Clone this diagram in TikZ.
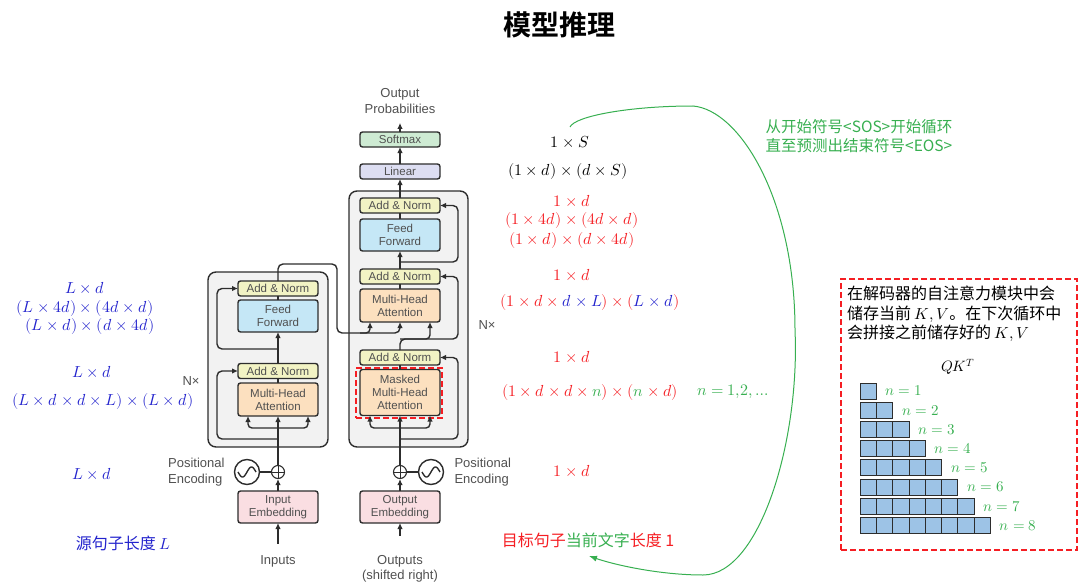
\documentclass[tikz,border=0pt]{standalone}
\usepackage{fontspec}
\usepackage{unicode-math}
\usepackage{xcolor}
\newfontfamily\hv{Liberation Sans}
\newfontfamily\cjk{Noto Sans CJK SC}[BoldFont={Noto Sans CJK SC Bold}]
\usetikzlibrary{arrows.meta,positioning}

\definecolor{linec}{RGB}{45,45,45}
\definecolor{txtc}{RGB}{80,80,80}
\definecolor{addc}{RGB}{242,243,196}
\definecolor{ffc}{RGB}{197,231,246}
\definecolor{mhac}{RGB}{252,224,191}
\definecolor{embc}{RGB}{250,222,226}
\definecolor{linc}{RGB}{221,222,242}
\definecolor{smc}{RGB}{206,235,211}
\definecolor{blockc}{RGB}{242,242,242}
\definecolor{qkc}{RGB}{157,195,230}
\definecolor{mred}{RGB}{245,30,35}
\definecolor{mblue}{RGB}{35,35,205}
\definecolor{mgreen}{RGB}{55,175,80}

\begin{document}
\begin{tikzpicture}[x=1pt, y=-1pt,
    box/.style={draw=linec, line width=1.4pt, rounded corners=2.5pt, align=center,
                minimum width=80pt, inner sep=1pt, outer sep=0pt, text=txtc,
                font=\hv\fontsize{11.5}{13}\selectfont},
    addnorm/.style={box, fill=addc, minimum height=15pt},
    ffbox/.style={box, fill=ffc, minimum height=32pt},
    mhabox/.style={box, fill=mhac, minimum height=33pt},
    embbox/.style={box, fill=embc, minimum height=32pt},
    block/.style={draw=linec, line width=1.4pt, rounded corners=8pt, fill=blockc},
    lbl/.style={text=txtc, font=\hv\fontsize{13}{15.5}\selectfont, align=center},
    wire/.style={draw=linec, line width=1.4pt},
    arrow/.style={wire, -{Latex[length=6pt,width=5.5pt]}},
    dim/.style={font=\fontsize{16}{19}\selectfont},
    cjktxt/.style={font=\cjk\fontsize{16}{19.5}\selectfont},
    redbox/.style={draw=mred, line width=1.8pt, dash pattern=on 6pt off 3pt},
    cell/.style={draw=linec, line width=0.8pt, fill=qkc, minimum width=16.3pt,
                 minimum height=16pt, inner sep=0pt, outer sep=0pt},
    loop/.style={draw=mgreen, line width=1pt, -{Latex[length=8pt,width=6pt]}}
  ]
    \useasboundingbox (0,0) rectangle (1080,586);

    \node[font=\cjk\bfseries\fontsize{28}{32}\selectfont] (title) at (559,25) {模型推理};

    % encoder and decoder blocks
    \node[block, minimum width=120pt, minimum height=175pt] (encBlock) at (268,359.5) {};
    \node[block, minimum width=119pt, minimum height=256pt] (decBlock) at (408.5,319) {};

    \node[mhabox] (encMHA) at (278,399.5) {Multi-Head\\Attention};
    \node[addnorm, above=4.5pt of encMHA] (encAdd1) {Add \& Norm};
    \node[ffbox, above=31.5pt of encAdd1] (encFF) {Feed\\Forward};
    \node[addnorm, above=4pt of encFF] (encAdd2) {Add \& Norm};
    \node[embbox] (encEmb) at (278,507) {Input\\Embedding};

    \node[box, fill=mhac, minimum height=46pt] (decMMHA) at (400,392.5) {Masked\\Multi-Head\\Attention};
    \node[addnorm, above=4.5pt of decMMHA] (decAdd1) {Add \& Norm};
    \node[mhabox, above=28pt of decAdd1] (decMHA) {Multi-Head\\Attention};
    \node[addnorm, above=5pt of decMHA] (decAdd2) {Add \& Norm};
    \node[ffbox, above=18pt of decAdd2] (decFF) {Feed\\Forward};
    \node[addnorm, above=6pt of decFF] (decAdd3) {Add \& Norm};
    \node[box, fill=linc, minimum height=15pt, above=19pt of decAdd3] (linear) {Linear};
    \node[box, fill=smc, minimum height=15pt, above=17pt of linear] (softmax) {Softmax};
    \node[embbox] (decEmb) at (400,507) {Output\\Embedding};

    \node[redbox, minimum width=86pt, minimum height=50pt] (maskMark) at (399,393) {};

    \node[lbl] (outProb) at (400,101) {Output\\Probabilities};
    \node[lbl] (inputs) at (278,561) {Inputs};
    \node[lbl] (outputs) at (400,569) {Outputs\\(shifted right)};
    \node[lbl] (encN) at (191,381) {N×};
    \node[lbl] (decN) at (487,325) {N×};

    % positional encoding
    \node[circle, draw=linec, line width=1.4pt, minimum size=25pt, inner sep=0pt] (encSine) at (247,472) {};
    \node[circle, draw=linec, line width=1.1pt, minimum size=13pt, inner sep=0pt] (encPlus) at (278,472) {};
    \node[circle, draw=linec, line width=1.4pt, minimum size=25pt, inner sep=0pt] (decSine) at (431,472) {};
    \node[circle, draw=linec, line width=1.1pt, minimum size=13pt, inner sep=0pt] (decPlus) at (400,472) {};
    \draw[wire, shift={(encSine.center)}] plot[domain=-9:9, samples=40] (\x, {-5*sin(\x*20)});
    \draw[wire, shift={(decSine.center)}] plot[domain=-9:9, samples=40] (\x, {-5*sin(\x*20)});
    \draw[wire, line width=1pt] (encPlus.north) -- (encPlus.south) (encPlus.west) -- (encPlus.east);
    \draw[wire, line width=1pt] (decPlus.north) -- (decPlus.south) (decPlus.west) -- (decPlus.east);
    \draw[wire] (encSine) -- (encPlus);
    \draw[wire] (decSine) -- (decPlus);
    \node[lbl, anchor=east, align=left] (encPosTxt) at (228,472) {Positional\\Encoding};
    \node[lbl, anchor=west, align=left] (decPosTxt) at (451,472) {Positional\\Encoding};

    % encoder wiring
    \draw[arrow, shorten <=8pt] (inputs) -- (encEmb);
    \draw[arrow] (encEmb) -- (encPlus);
    \draw[arrow] (encPlus) -- (encMHA);
    \draw[arrow, rounded corners=4pt] (278,428) -| ([xshift=-30pt]encMHA.south);
    \draw[arrow, rounded corners=4pt] (278,428) -| ([xshift=30pt]encMHA.south);
    \draw[wire] (encMHA) -- (encAdd1);
    \draw[arrow] (encAdd1) -- (encFF);
    \draw[wire] (encFF) -- (encAdd2);
    \draw[arrow, rounded corners=5pt] (278,439) -- (217,439) |- (encAdd1.west);
    \draw[arrow, rounded corners=5pt] (278,349) -- (217,349) |- (encAdd2.west);

    % encoder output into decoder
    \draw[arrow, rounded corners=5pt] (encAdd2.north) -- (278,264) -- (337,264) -- (337,333) -- (400,333) -- (decMHA.south);
    \draw[arrow, rounded corners=4pt] (360,333) -| ([xshift=-30pt]decMHA.south);

    % decoder wiring
    \draw[arrow, shorten <=16pt] (outputs) -- (decEmb);
    \draw[arrow] (decEmb) -- (decPlus);
    \draw[arrow] (decPlus) -- (decMMHA);
    \draw[arrow, rounded corners=4pt] (400,428) -| ([xshift=-30pt]decMMHA.south);
    \draw[arrow, rounded corners=4pt] (400,428) -| ([xshift=30pt]decMMHA.south);
    \draw[wire] (decMMHA) -- (decAdd1);
    \draw[arrow, rounded corners=5pt] (decAdd1.north) |- (458,339) |- (decAdd2.east);
    \draw[arrow, rounded corners=4pt] (400,339) -| ([xshift=30pt]decMHA.south);
    \draw[wire] (decMHA) -- (decAdd2);
    \draw[arrow] (decAdd2) -- (decFF);
    \draw[wire] (decFF) -- (decAdd3);
    \draw[arrow, rounded corners=5pt] (400,439) -- (458,439) |- (decAdd1.east);
    \draw[arrow, rounded corners=5pt] (400,262) -- (458,262) |- (decAdd3.east);
    \draw[arrow] (decAdd3) -- (linear);
    \draw[arrow] (linear) -- (softmax);
    \draw[arrow, shorten >=6pt] (softmax) -- (outProb);

    % decoder sizes
    \node[dim] (dS1) at (570,142) {$1\times S$};
    \node[dim] (dS2) at (568,171) {$(1\times d)\times(d\times S)$};
    \node[dim, text=mred] (dF1) at (572,201) {$1\times d$};
    \node[dim, text=mred] (dF2) at (572,220) {$(1\times 4d)\times(4d\times d)$};
    \node[dim, text=mred] (dF3) at (572,240) {$(1\times d)\times(d\times 4d)$};
    \node[dim, text=mred] (dC1) at (572,275) {$1\times d$};
    \node[dim, text=mred] (dC2) at (590,302)
      {$(1\times d\times {\color{mblue}d\times L})\times({\color{mblue}L\times d})$};
    \node[dim, text=mred] (dM1) at (572,357) {$1\times d$};
    \node[dim, text=mred] (dM2) at (590,392)
      {$(1\times d\times d\times {\color{mgreen}n})\times({\color{mgreen}n}\times d)$};
    \node[dim, text=mgreen] (dN) at (733,392) {$n=1{,}2,\ldots$};
    \node[dim, text=mred] (dE) at (572,471) {$1\times d$};
    \node[cjktxt, text=mred] (tgt) at (588,540) {目标句子{\color{mgreen}当前文字}长度 1};

    % encoder sizes
    \node[dim, text=mblue] (eF1) at (85,288) {$L\times d$};
    \node[dim, text=mblue] (eF2) at (85,308) {$(L\times 4d)\times(4d\times d)$};
    \node[dim, text=mblue] (eF3) at (90,326) {$(L\times d)\times(d\times 4d)$};
    \node[dim, text=mblue] (eA1) at (92,372) {$L\times d$};
    \node[dim, text=mblue] (eA2) at (103,401) {$(L\times d\times d\times L)\times(L\times d)$};
    \node[dim, text=mblue] (eE) at (92,474) {$L\times d$};
    \node[cjktxt, text=mblue] (src) at (123,543) {源句子长度 $L$};

    % decoding loop
    \node[font=\cjk\fontsize{15.5}{18.5}\selectfont, text=mgreen, align=center] (loopTxt) at (859,136)
      {从开始符号<SOS>开始循环\\直至预测出结束符号<EOS>};
    \coordinate (loopA) at (570,127);
    \coordinate (loopB) at (589,556);
    \draw[loop] (loopA) .. controls (575,116) and (630,106) .. (693,106)
      .. controls (740,110) and (795,200) .. (795,330)
      .. controls (800,440) and (760,575) .. (703,575)
      .. controls (660,575) and (615,565) .. (loopB);

    % kv cache
    \node[redbox, minimum width=236pt, minimum height=271pt] (kvBox) at (959,414.5) {};
    \node[cjktxt, anchor=north west, align=left, inner sep=2pt] (kvTxt) at (845,284)
      {在解码器的自注意力模块中会\\储存当前 $K,V$。在下次循环中\\会拼接之前储存好的 $K,V$};
    \node[font=\fontsize{15}{18}\selectfont] (qk) at (958,367) {$QK^T$};
    \foreach \r in {1,...,8} {
      \foreach \c in {1,...,\r} {
        \node[cell] (c\r-\c) at ({860+(\c-0.5)*16.3}, {391+(\r-1)*19.2}) {};
      }
      \node[anchor=west, text=mgreen, font=\fontsize{15}{18}\selectfont] (n\r) at ([xshift=6pt]c\r-\r.east) {$n=\r$};
    }
\end{tikzpicture}
\end{document}
